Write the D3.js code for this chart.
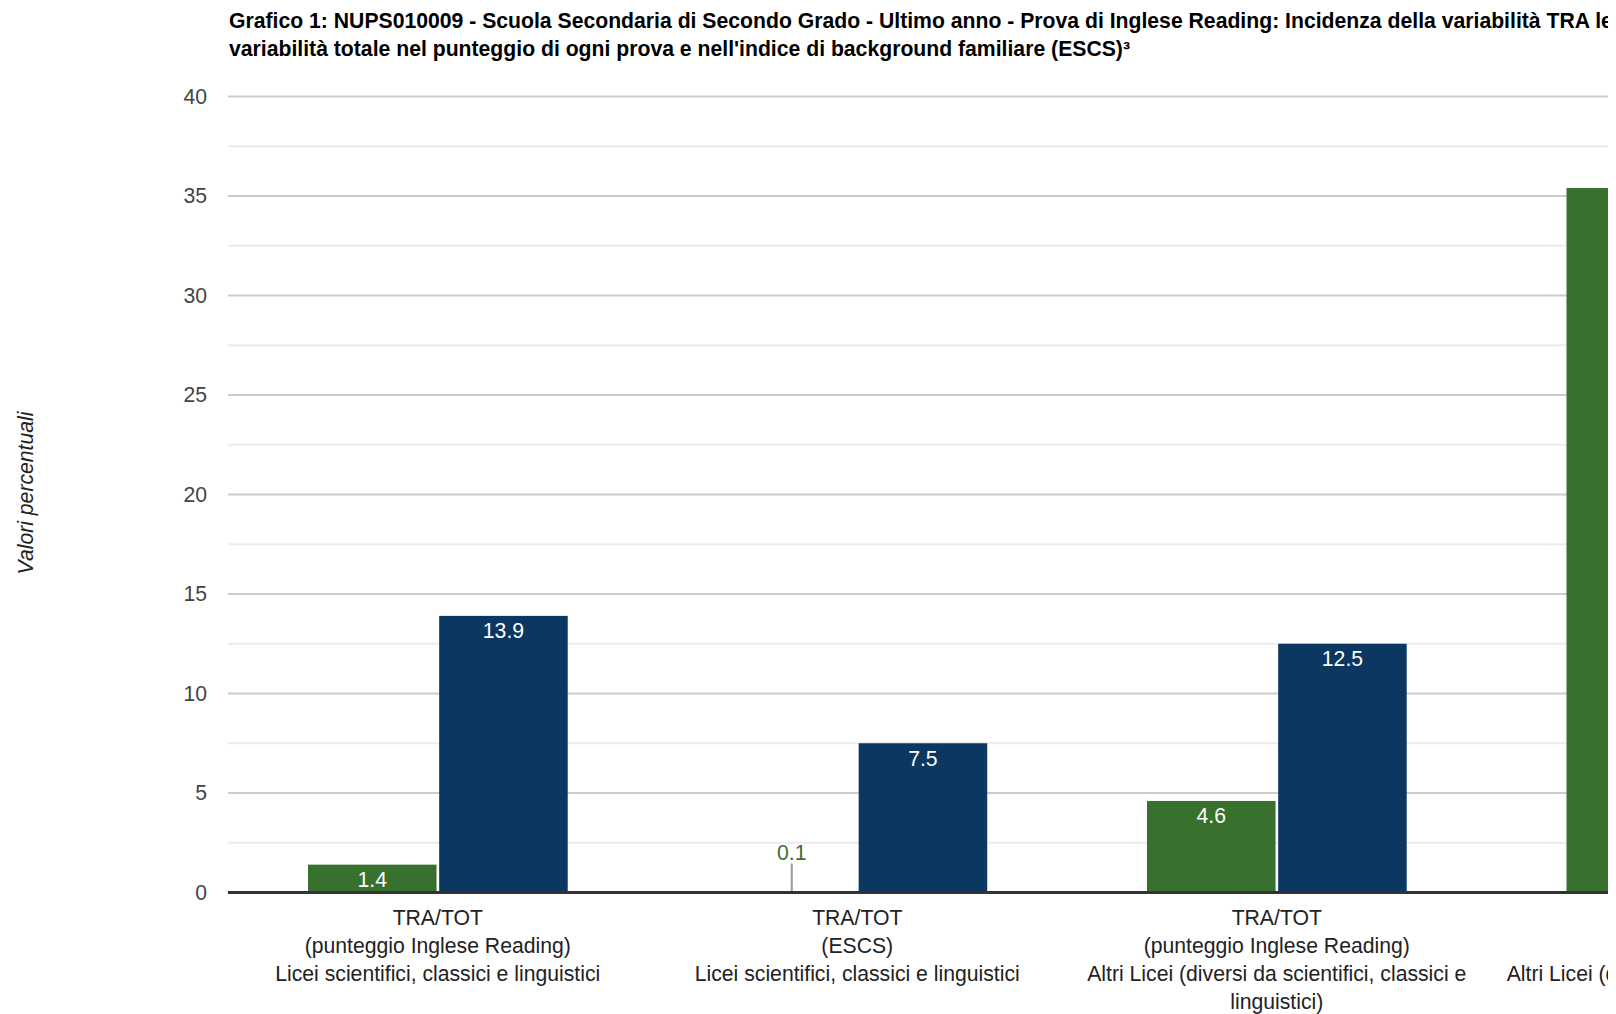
<!DOCTYPE html>
<html>
<head>
<meta charset="utf-8">
<script src="https://cdn.jsdelivr.net/npm/d3@7"></script>
<style>
  html, body { margin: 0; padding: 0; background: #fff; overflow: hidden; }
  svg { display: block; font-family: "Liberation Sans", Arial, sans-serif; }
</style>
</head>
<body>
<svg id="chart" width="1608" height="1014"></svg>
<script>
// ---- Data ----
const titleLines = [
  "Grafico 1: NUPS010009 - Scuola Secondaria di Secondo Grado - Ultimo anno - Prova di Inglese Reading: Incidenza della variabilità TRA le classi sulla",
  "variabilità totale nel punteggio di ogni prova e nell'indice di background familiare (ESCS)³"
];
const categories = [
  "TRA/TOT\n(punteggio Inglese Reading)\nLicei scientifici, classici e linguistici",
  "TRA/TOT\n(ESCS)\nLicei scientifici, classici e linguistici",
  "TRA/TOT\n(punteggio Inglese Reading)\nAltri Licei (diversi da scientifici, classici e linguistici)",
  "TRA/TOT\n(ESCS)\nAltri Licei (diversi da scientifici, classici e linguistici)"
];
const seriesNames = ["Scuola", "Italia"];
const seriesGreen = [1.4, 0.1, 4.6, 35.4];
const seriesBlue = [13.9, 7.5, 12.5, null];
const seriesColors = ["#37712d", "#0c3760"];
const yTicks = [0, 5, 10, 15, 20, 25, 30, 35, 40];
const yMinorTicks = [2.5, 7.5, 12.5, 17.5, 22.5, 27.5, 32.5, 37.5];
const yAxisTitle = "Valori percentuali";

// ---- Layout ----
const svg = d3.select("#chart");
const plotLeft = 228, plotRight = 1906, plotTop = 96.5, plotBottom = 892.5;
const FS = 21.2;

const x0 = d3.scaleBand().domain(categories).range([plotLeft, plotRight]).paddingInner(0).paddingOuter(0);
const bw = x0.bandwidth();
const x1 = d3.scaleBand().domain(seriesNames).range([bw * 0.1907, bw * 0.8098]).paddingInner(0.02).paddingOuter(0);
const y = d3.scaleLinear().domain([0, 40]).range([plotBottom, plotTop]);

// Title
svg.append("g").selectAll("text").data(titleLines).join("text")
  .attr("x", 229).attr("y", (d, i) => 28 + i * 28)
  .attr("font-size", FS).attr("font-weight", "bold").attr("fill", "#000")
  .text(d => d);

// Minor gridlines
svg.append("g").selectAll("line").data(yMinorTicks).join("line")
  .attr("x1", plotLeft).attr("x2", plotRight)
  .attr("y1", d => y(d)).attr("y2", d => y(d))
  .attr("stroke", "#ebebeb").attr("stroke-width", 2);

// Major gridlines
svg.append("g").selectAll("line").data(yTicks.filter(d => d !== 0)).join("line")
  .attr("x1", plotLeft).attr("x2", plotRight)
  .attr("y1", d => y(d)).attr("y2", d => y(d))
  .attr("stroke", "#cccccc").attr("stroke-width", 2);

// Y axis tick labels via d3.axisLeft
const yAxis = d3.axisLeft(y).tickValues(yTicks).tickSize(0).tickPadding(0).tickFormat(d3.format("d"));
const gy = svg.append("g").attr("transform", `translate(${207},0)`).call(yAxis);
gy.select(".domain").remove();
gy.selectAll("text").attr("font-size", FS).attr("fill", "#444")
  .attr("font-family", '"Liberation Sans", Arial, sans-serif');

// Y axis title
svg.append("text")
  .attr("transform", `translate(33,${493}) rotate(-90)`)
  .attr("text-anchor", "middle").attr("font-size", FS).attr("font-style", "italic").attr("fill", "#222")
  .text(yAxisTitle);

// Bars
const rows = categories.map((c, i) => ({ cat: c, vals: [seriesGreen[i], seriesBlue[i]] }));
const groups = svg.append("g").selectAll("g").data(rows).join("g")
  .attr("transform", d => `translate(${x0(d.cat)},0)`);

const minBar = 0.5; // bars smaller than this are shown only via an annotation stem
groups.selectAll("rect").data(d => d.vals.map((v, j) => ({ v, s: seriesNames[j], j })).filter(e => e.v != null && e.v >= minBar))
  .join("rect")
  .attr("x", e => x1(e.s)).attr("width", x1.bandwidth())
  .attr("y", e => y(e.v)).attr("height", e => y(0) - y(e.v))
  .attr("fill", e => seriesColors[e.j]);

// Value labels
const minInside = 1.3;
groups.each(function(d) {
  const g = d3.select(this);
  d.vals.forEach((v, j) => {
    if (v == null) return;
    const cx = x1(seriesNames[j]) + x1.bandwidth() / 2;
    const txt = d3.format(".1f")(v);
    if (v >= minInside) {
      g.append("text").attr("x", cx).attr("y", y(v) + 22.5)
        .attr("text-anchor", "middle").attr("font-size", FS).attr("fill", "#ffffff").text(txt);
    } else {
      g.append("line").attr("x1", cx).attr("x2", cx)
        .attr("y1", y(0)).attr("y2", y(0) - 29)
        .attr("stroke", "#999").attr("stroke-width", 2);
      g.append("text").attr("x", cx).attr("y", y(0) - 33)
        .attr("text-anchor", "middle").attr("font-size", FS)
        .attr("fill", seriesColors[j]).attr("stroke", "#fff").attr("stroke-width", 4)
        .attr("paint-order", "stroke").attr("stroke-linejoin", "round").text(txt);
    }
  });
});

// Baseline
svg.append("line").attr("x1", plotLeft).attr("x2", plotRight)
  .attr("y1", y(0)).attr("y2", y(0)).attr("stroke", "#333").attr("stroke-width", 3);

// Category labels (with wrapping)
const maxW = 410;
const measure = svg.append("text").attr("font-size", FS).attr("visibility", "hidden");
function wrapLine(line) {
  const words = line.split(" ");
  const out = [];
  let cur = "";
  words.forEach(w => {
    const test = cur ? cur + " " + w : w;
    measure.text(test);
    if (measure.node().getComputedTextLength() > maxW && cur) { out.push(cur); cur = w; }
    else cur = test;
  });
  if (cur) out.push(cur);
  return out;
}
const catG = svg.append("g");
categories.forEach(c => {
  const lines = c.split("\n").flatMap(wrapLine);
  const cx = x0(c) + bw / 2;
  catG.append("g").selectAll("text").data(lines).join("text")
    .attr("x", cx).attr("y", (d, i) => 925 + i * 28)
    .attr("text-anchor", "middle").attr("font-size", FS).attr("fill", "#222")
    .text(d => d);
});
measure.remove();
</script>
</body>
</html>
